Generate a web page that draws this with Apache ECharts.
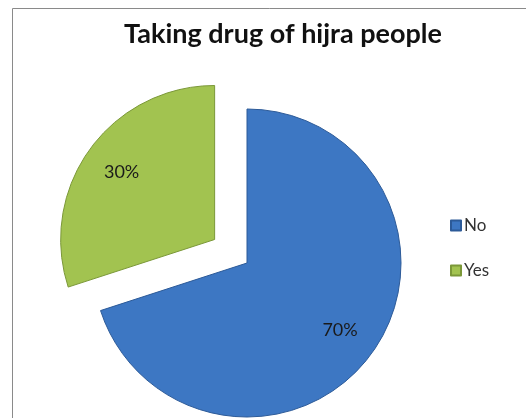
<!DOCTYPE html>
<html><head><meta charset="utf-8">
<script src="https://cdn.jsdelivr.net/npm/echarts@6/dist/echarts.min.js"></script>
<style>html,body{margin:0;padding:0;background:#fff}#c{width:526px;height:418px}</style>
</head><body><div id="c"></div>
<script>
const titleText = 'Taking drug of hijra people';
const categories = ['No', 'Yes'];
const values = [70, 30];
const explodedCategory = 'Yes';
const colors = ['#3d77c3', '#a2c350'];
const borders = ['#2c5a98', '#7b9838'];

const chart = echarts.init(document.getElementById('c'), null, {renderer: 'canvas'});
const center = [247, 263];
const R = 154;
const mkData = (withStyle) => categories.map((n, i) => ({
  name: n, value: values[i], selected: n === explodedCategory,
  itemStyle: withStyle ? {color: colors[i], borderColor: borders[i], borderWidth: 1} : {color: 'rgba(0,0,0,0)'}
}));
chart.setOption({
  animation: false,
  backgroundColor: '#fff',
  color: colors,
  title: {text: titleText, left: 278, textAlign: 'center', top: 16,
    textStyle: {fontFamily: 'Lato', fontWeight: 'bold', fontSize: 27, color: '#111'}},
  legend: {orient: 'vertical', left: 445, top: 212, itemWidth: 10, itemHeight: 10, itemGap: 28,
    icon: 'rect', data: categories,
    textStyle: {fontFamily: 'Lato', fontSize: 17, color: '#333', padding: [0,0,0,-2]}},
  graphic: [{type: 'rect', shape: {x: 12.5, y: 8.5, width: 530, height: 430},
    style: {fill: 'none', stroke: '#8a8a8a', lineWidth: 1}, silent: true, z: -1}],
  series: [
    {type: 'pie', center: center, radius: [0, R], startAngle: 90, clockwise: true,
     selectedMode: 'single', selectedOffset: 40, label: {show: false}, labelLine: {show: false},
     emphasis: {disabled: true}, data: mkData(true)},
    {type: 'pie', center: center, radius: [70, R], startAngle: 90, clockwise: true,
     selectedMode: 'single', selectedOffset: 40, silent: true, legendHoverLink: false,
     label: {show: true, position: 'inside', formatter: '{d}%', fontFamily: 'Lato', fontSize: 18, color: '#1a1a1a'},
     labelLine: {show: false}, emphasis: {disabled: true}, data: mkData(false)}
  ]
});
</script></body></html>
